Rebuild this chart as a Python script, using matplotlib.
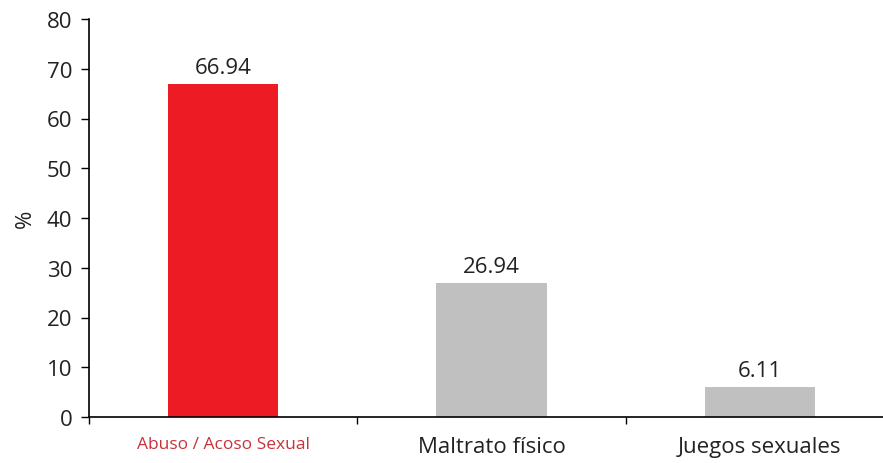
import matplotlib.pyplot as plt
from matplotlib.ticker import FixedLocator

categorias = ['Abuso / Acoso Sexual', 'Maltrato físico', 'Juegos sexuales']
porcentajes = [66.94, 26.94, 6.11]
colores = ['#ed1c24', '#c0c0c0', '#c0c0c0']

plt.rcParams['font.family'] = ['Open Sans', 'DejaVu Sans']

fig = plt.figure(figsize=(8.83, 4.64), dpi=100)
ax = fig.add_axes([89/883, 46/464, 805/883, 398/464])

x = list(range(len(categorias)))
bars = ax.bar(x, porcentajes, width=0.41, color=colores)

for xi, v in zip(x, porcentajes):
    ax.annotate(f'{v:.2f}', (xi, v), xytext=(0, 4), textcoords='offset points',
                ha='center', va='bottom', fontsize=16, color='#222222')

ax.set_xlim(-0.5, 2.5)
ax.set_ylim(0, 80)
ax.set_yticks(range(0, 81, 10))
ax.set_xticks(x)
ax.set_xticklabels(categorias, fontsize=16, color='#222222')
ax.xaxis.set_minor_locator(FixedLocator([-0.5, 0.5, 1.5]))
ax.tick_params(axis='x', which='major', length=0, pad=14)
ax.tick_params(axis='x', which='minor', length=5, width=1, direction='out')
ax.tick_params(axis='y', length=6, width=1, labelsize=16, labelcolor='#222222', pad=6)

lbl = ax.get_xticklabels()[0]
lbl.set_color('#c8323a')
lbl.set_fontsize(12.5)

ax.spines['top'].set_visible(False)
ax.spines['right'].set_visible(False)
ax.spines['left'].set_linewidth(1.2)
ax.spines['bottom'].set_linewidth(1.2)
ax.set_ylabel('%', fontsize=16, color='#222222', labelpad=8)

fig.savefig('out.png', dpi=100)
